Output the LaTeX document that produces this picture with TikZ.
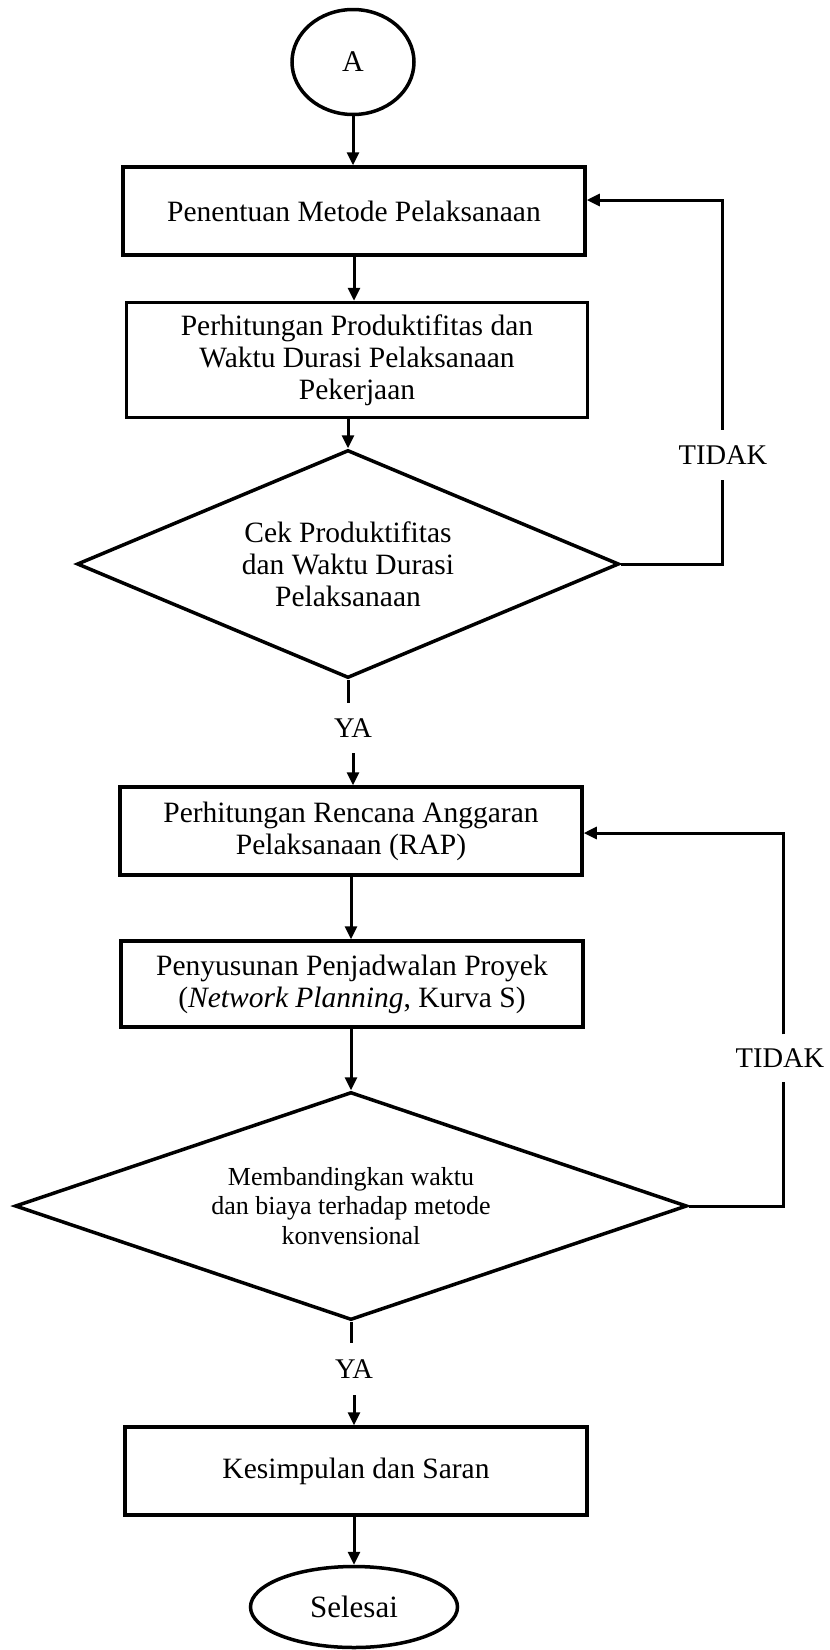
\documentclass[tikz,border=0pt]{standalone}
\usepackage{fontspec}
\setmainfont{Liberation Serif}
\usetikzlibrary{shapes.geometric,arrows.meta}
\begin{document}
\begin{tikzpicture}[x=1pt,y=-1pt,
  box/.style={draw,line width=3.5pt,minimum width=462pt,inner sep=0pt,align=center,font=\fontsize{29.5}{32}\selectfont},
  dec/.style={draw,diamond,line width=3.5pt,inner sep=0pt,aspect=2.4,align=center},
  term/.style={draw,ellipse,line width=3.5pt,inner sep=0pt,font=\fontsize{30}{32}\selectfont},
  lbl/.style={inner sep=0pt,font=\fontsize{28.5}{32}\selectfont},
  arr/.style={line width=3pt,-{Triangle[length=13pt,width=12pt]}},
  ln/.style={line width=3pt}]
\useasboundingbox[fill=white] (0,0) rectangle (830,1650);

% nodes
\node[term,minimum width=122pt,minimum height=105pt] (A) at (353,62) {A};
\node[box,minimum height=88pt] (b1) at (354,211) {Penentuan Metode Pelaksanaan};
\node[box,minimum height=115pt,minimum width=461pt] (b2) at (357,360) {Perhitungan Produktifitas dan\\Waktu Durasi Pelaksanaan\\Pekerjaan};
\node[dec,minimum width=542pt,minimum height=228pt,font=\fontsize{29.5}{32}\selectfont] (d1) at (348,564) {Cek Produktifitas\\dan Waktu Durasi\\Pelaksanaan};
\node[lbl,minimum height=50pt] (ya1) at (353,728) {YA};
\node[lbl,minimum height=50pt] (t1) at (723,455) {TIDAK};
\node[box,minimum height=88pt] (b3) at (351,831) {Perhitungan Rencana Anggaran\\Pelaksanaan (RAP)};
\node[box,minimum height=86pt] (b4) at (352,984) {Penyusunan Penjadwalan Proyek\\(\textit{Network Planning}, Kurva S)};
\node[dec,minimum width=672pt,minimum height=228pt,font=\fontsize{26}{29.5}\selectfont] (d2) at (351,1206) {Membandingkan waktu\\dan biaya terhadap metode\\konvensional};
\node[lbl,minimum height=47pt] (t2) at (780,1058) {TIDAK};
\node[lbl,minimum height=52pt] (ya2) at (354,1369) {YA};
\node[box,minimum height=88pt] (b5) at (356,1471) {Kesimpulan dan Saran};
\node[term,minimum width=207pt,minimum height=81pt,font=\fontsize{31}{33}\selectfont] (end) at (354,1607) {Selesai};

\coordinate (r1) at (722,200);
\coordinate (r2) at (783,833);

% main flow
\draw[arr] (A.south) -- (A.south |- b1.north);
\draw[arr] (b1.south) -- (b1.south |- b2.north);
\draw[arr] (b2.south -| d1.north) -- (d1.north);
\draw[ln] (d1.south) -- (d1.south |- ya1.north);
\draw[arr] (ya1.south) -- (ya1.south |- b3.north);
\draw[arr] (b3.south) -- (b3.south |- b4.north);
\draw[arr] (b4.south -| d2.north) -- (d2.north);
\draw[ln] (d2.south) -- (d2.south |- ya2.north);
\draw[arr] (ya2.south) -- (ya2.south |- b5.north);
\draw[arr] (b5.south -| end.north) -- (end.north);

% loops
\draw[ln] (d1.east) -| (r1 |- t1.south);
\draw[arr] (r1 |- t1.north) -- (r1) -- (r1 -| b1.east);
\draw[ln] (d2.east) -| (r2 |- t2.south);
\draw[arr] (r2 |- t2.north) -- (r2) -- (r2 -| b3.east);
\end{tikzpicture}
\end{document}
